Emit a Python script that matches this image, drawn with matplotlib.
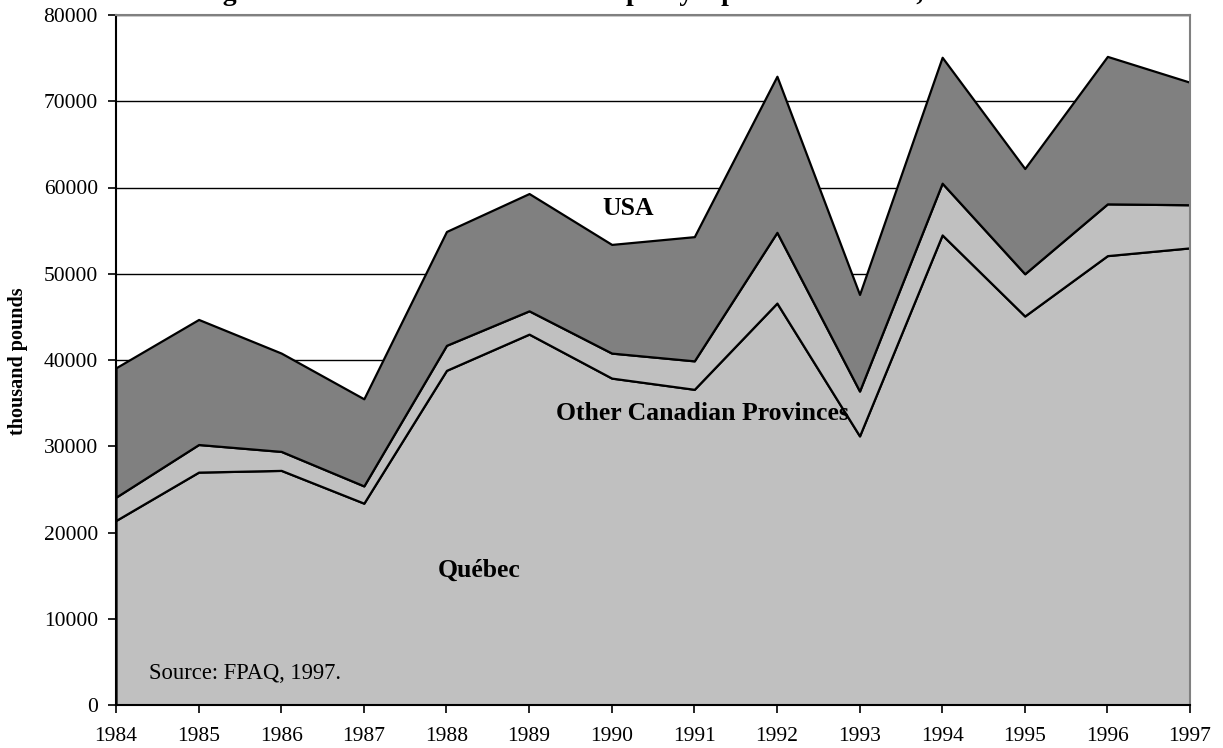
"""Stacked area chart of maple syrup destinations, 1984-1997."""
import numpy as np
from matplotlib import pyplot as plt

years = [1984, 1985, 1986, 1987, 1988, 1989, 1990,
         1991, 1992, 1993, 1994, 1995, 1996, 1997]

# thousand pounds, stacked from the bottom
quebec = [21400, 27000, 27200, 23400, 38800, 43000, 37900,
          36600, 46600, 31200, 54500, 45100, 52100, 53000]
other_provinces = [2700, 3200, 2200, 2000, 2900, 2700, 2900,
                   3300, 8200, 5200, 6000, 4900, 6000, 5000]
usa = [15000, 14500, 11400, 10100, 13200, 13600, 12600,
       14400, 18100, 11200, 14600, 12200, 17100, 14200]

series_names = ['Québec', 'Other Canadian Provinces', 'USA']
y_ticks = [0, 10000, 20000, 30000, 40000, 50000, 60000, 70000, 80000]

title = ('Figure 4. Destination of the bulk maple syrup sold at auction, '
         '1984-1997')

plt.rcParams['font.family'] = ['Liberation Serif', 'DejaVu Serif']

fig = plt.figure(figsize=(12.23, 7.48), dpi=100)
ax = fig.add_axes([116 / 1223, 43 / 748, (1190 - 116) / 1223, 690 / 748])

ax.stackplot(years, quebec, other_provinces, usa,
             colors=['#c0c0c0', '#c0c0c0', '#808080'],
             edgecolor='black', linewidth=1.6, zorder=2)

ax.set_xlim(years[0], years[-1])
ax.set_ylim(0, 80000)
ax.set_xticks(years)
ax.set_yticks(y_ticks)
ax.tick_params(axis='both', labelsize=15.5, direction='out', length=6,
               width=1.2, color='black')
ax.tick_params(axis='x', pad=10)
ax.tick_params(axis='y', pad=7)

ax.grid(axis='y', color='black', linewidth=1.0, zorder=1)
ax.set_axisbelow(True)

for side in ['left', 'bottom']:
    ax.spines[side].set_color('black')
    ax.spines[side].set_linewidth(1.5)
for side in ['top', 'right']:
    ax.spines[side].set_color('#808080')
    ax.spines[side].set_linewidth(1.5)

# series labels inside the areas
ax.text(1990.2, 57600, series_names[2], fontsize=18.5, fontweight='bold',
        ha='center', va='center')
ax.text(1991.1, 33800, series_names[1], fontsize=18.5, fontweight='bold',
        ha='center', va='center')
ax.text(1988.4, 15600, series_names[0], fontsize=18.5, fontweight='bold',
        ha='center', va='center')
ax.text(1984.4, 3600, 'Source: FPAQ, 1997.', fontsize=16.3,
        ha='left', va='center')

fig.text(18 / 1223, 0.517, 'thousand pounds', rotation=90, fontsize=14.5,
         fontweight='bold', ha='center', va='center')

# title sits above the top edge, only its descenders show, as in the source
fig.text(0.51, 1.0, title, fontsize=20, fontweight='bold',
         ha='center', va='baseline')

fig.savefig('out.png', dpi=100)
